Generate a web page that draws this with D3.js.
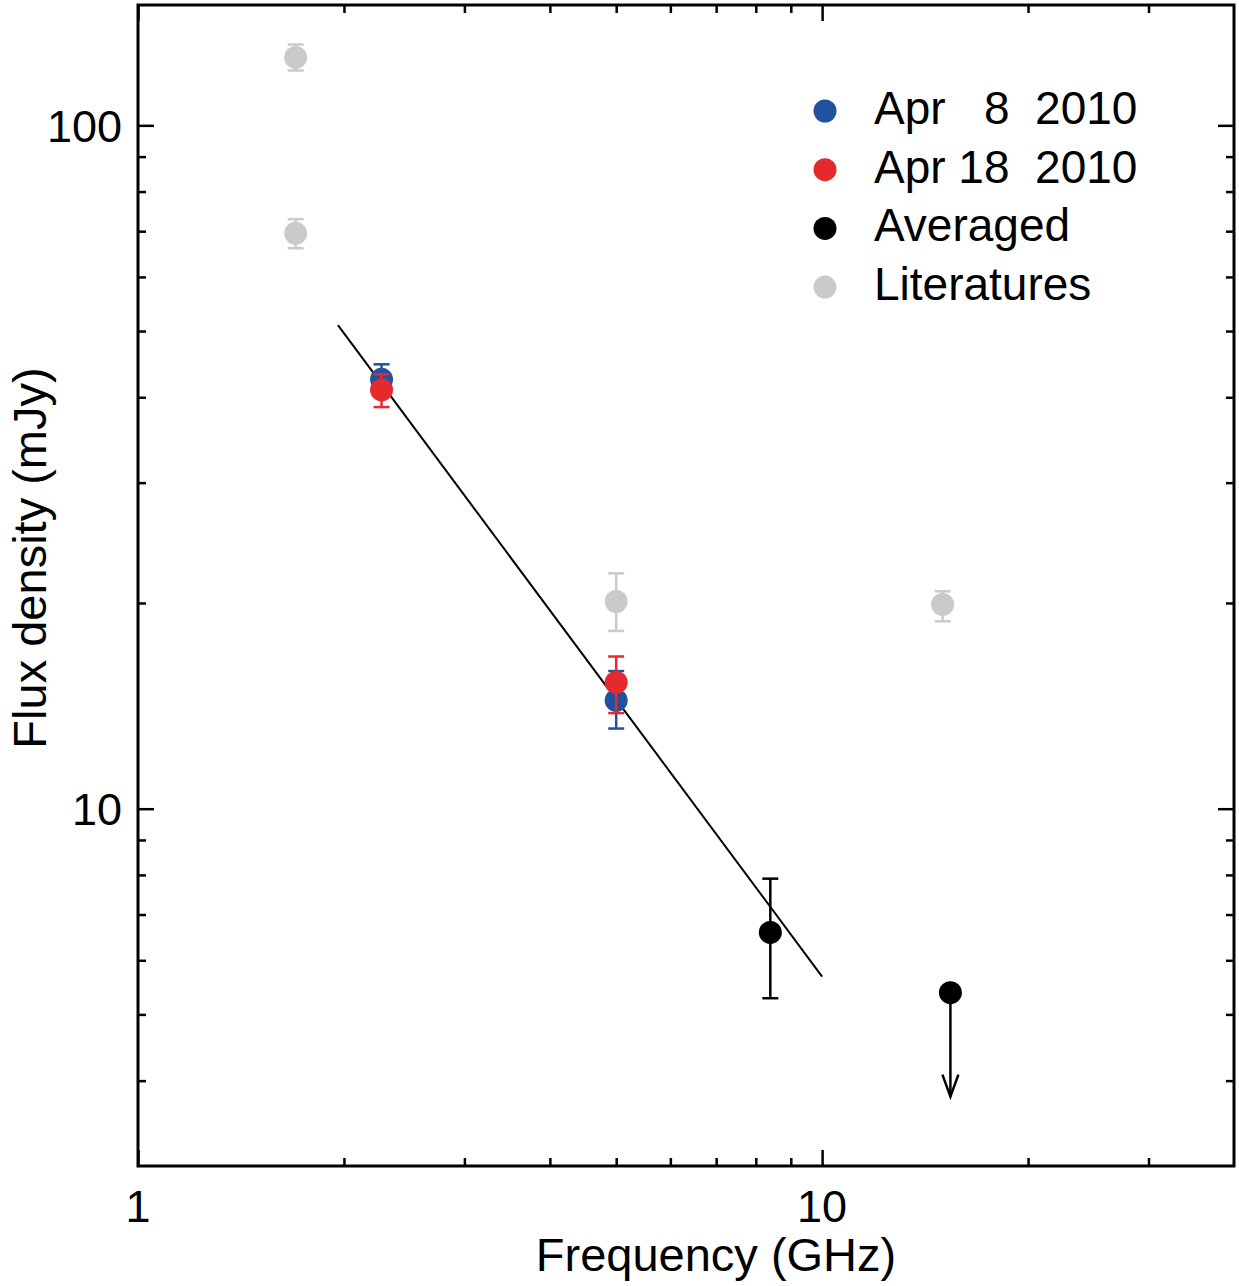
<!DOCTYPE html>
<html lang="en">
<head>
<meta charset="utf-8">
<title>Flux density vs frequency</title>
<script src="https://cdn.jsdelivr.net/npm/d3@7"></script>
<style>
  body { margin: 0; background: #fff; }
  text { font-family: "Liberation Sans", Arial, Helvetica, sans-serif; fill: #000; }
</style>
</head>
<body>
<script>
// series: frequency (GHz), flux (mJy), error low / high (mJy)
var apr8Freq = [2.27, 5.0];
var apr8Flux = [42.5, 14.4];
var apr8Lo = [40.4, 13.1];
var apr8Hi = [44.7, 15.9];

var apr18Freq = [2.27, 5.0];
var apr18Flux = [41.0, 15.3];
var apr18Lo = [38.7, 13.8];
var apr18Hi = [43.2, 16.7];

var litFreq = [1.70, 1.70, 5.0, 15.0];
var litFlux = [125.7, 69.5, 20.1, 19.9];
var litLo = [120.3, 66.1, 18.2, 18.8];
var litHi = [131.3, 72.9, 22.1, 20.8];

var avgFreq = [8.4];
var avgFlux = [6.59];
var avgLo = [5.28];
var avgHi = [7.90];

// upper limit (arrow down)
var limFreq = [15.4];
var limFlux = [5.38];
var limTip = [3.79];

// power-law fit end points
var fitFreq = [1.96, 10.0];
var fitFlux = [51.0, 5.68];

var xMajor = [1, 10];
var xMinor = [2, 3, 4, 5, 6, 7, 8, 9, 20, 30];
var yMajor = [10, 100];
var yMinor = [4, 5, 6, 7, 8, 9, 20, 30, 40, 50, 60, 70, 80, 90];

var legendLabels = ["Apr   8  2010", "Apr 18  2010", "Averaged", "Literatures"];
var legendColors = ["#22519f", "#e52a2d", "#000000", "#c9cacc"];

var W = 1239, H = 1286;
var m = {left: 138, top: 5, right: 5, bottom: 120};
var w = W - m.left - m.right, h = H - m.top - m.bottom;

var svg = d3.select("body").append("svg").attr("width", W).attr("height", H);
var g = svg.append("g").attr("transform", "translate(" + m.left + "," + m.top + ")");

var x = d3.scaleLog().domain([1, 40]).range([0, w]);
var y = d3.scaleLog().domain([3, 150]).range([h, 0]);

function tickAxis(axisFn, scale, vals, len, tx, ty) {
  var a = g.append("g").attr("transform", "translate(" + tx + "," + ty + ")")
    .call(axisFn(scale).tickValues(vals).tickSize(-len).tickFormat(""));
  a.select(".domain").remove();
  a.selectAll("line").attr("stroke", "#000").attr("stroke-width", 2.5);
}
// inward ticks on all four sides
tickAxis(d3.axisBottom, x, xMajor, 16, 0, h);
tickAxis(d3.axisBottom, x, xMinor, 8, 0, h);
tickAxis(d3.axisTop, x, xMajor, 16, 0, 0);
tickAxis(d3.axisTop, x, xMinor, 8, 0, 0);
tickAxis(d3.axisLeft, y, yMajor, 16, 0, 0);
tickAxis(d3.axisLeft, y, yMinor, 8, 0, 0);
tickAxis(d3.axisRight, y, yMajor, 16, w, 0);
tickAxis(d3.axisRight, y, yMinor, 8, w, 0);

// frame
g.append("rect").attr("width", w).attr("height", h)
  .attr("fill", "none").attr("stroke", "#000").attr("stroke-width", 3);

// tick labels
g.selectAll(".xl").data(xMajor).enter().append("text")
  .attr("x", function(d) { return x(d); }).attr("y", h + 56)
  .attr("text-anchor", "middle").style("font-size", "45px")
  .text(function(d) { return d; });
g.selectAll(".yl").data(yMajor).enter().append("text")
  .attr("x", -16).attr("y", function(d) { return y(d); }).attr("dy", "0.36em")
  .attr("text-anchor", "end").style("font-size", "45px")
  .text(function(d) { return d; });

// axis titles
svg.append("text").attr("x", 716).attr("y", 1271).attr("text-anchor", "middle")
  .style("font-size", "47px").text("Frequency (GHz)");
svg.append("text").attr("transform", "translate(46,558) rotate(-90)")
  .attr("text-anchor", "middle").style("font-size", "47px").text("Flux density (mJy)");

// fit line
var line = d3.line().x(function(d) { return x(d[0]); }).y(function(d) { return y(d[1]); });
g.append("path").datum(d3.zip(fitFreq, fitFlux)).attr("d", line)
  .attr("fill", "none").attr("stroke", "#000").attr("stroke-width", 2);

function series(freq, flux, lo, hi, color) {
  var data = freq.map(function(f, i) { return {f: f, v: flux[i], lo: lo[i], hi: hi[i]}; });
  var s = g.append("g");
  var eb = s.selectAll("g").data(data).enter().append("g")
    .attr("stroke", color).attr("stroke-width", 2.5);
  eb.append("line").attr("x1", function(d) { return x(d.f); }).attr("x2", function(d) { return x(d.f); })
    .attr("y1", function(d) { return y(d.lo); }).attr("y2", function(d) { return y(d.hi); });
  eb.append("line").attr("x1", function(d) { return x(d.f) - 8; }).attr("x2", function(d) { return x(d.f) + 8; })
    .attr("y1", function(d) { return y(d.lo); }).attr("y2", function(d) { return y(d.lo); });
  eb.append("line").attr("x1", function(d) { return x(d.f) - 8; }).attr("x2", function(d) { return x(d.f) + 8; })
    .attr("y1", function(d) { return y(d.hi); }).attr("y2", function(d) { return y(d.hi); });
  s.selectAll("circle").data(data).enter().append("circle")
    .attr("cx", function(d) { return x(d.f); }).attr("cy", function(d) { return y(d.v); })
    .attr("r", 11.5).attr("fill", color);
}
series(litFreq, litFlux, litLo, litHi, legendColors[3]);
series(avgFreq, avgFlux, avgLo, avgHi, legendColors[2]);
series(apr8Freq, apr8Flux, apr8Lo, apr8Hi, legendColors[0]);
series(apr18Freq, apr18Flux, apr18Lo, apr18Hi, legendColors[1]);

// upper limit with arrow
limFreq.forEach(function(f, i) {
  var cx = x(f), cy = y(limFlux[i]), ty = y(limTip[i]);
  g.append("line").attr("x1", cx).attr("x2", cx).attr("y1", cy).attr("y2", ty)
    .attr("stroke", "#000").attr("stroke-width", 2.5);
  g.append("path").attr("d", "M" + (cx - 8) + "," + (ty - 22) + "L" + cx + "," + ty + "L" + (cx + 8) + "," + (ty - 22))
    .attr("fill", "none").attr("stroke", "#000").attr("stroke-width", 2.5);
  g.append("circle").attr("cx", cx).attr("cy", cy).attr("r", 11.5).attr("fill", "#000");
});

// legend
var leg = svg.selectAll(".leg").data(legendLabels).enter().append("g")
  .attr("transform", function(d, i) { return "translate(825," + (111 + i * 58.7) + ")"; });
leg.append("circle").attr("r", 11.5).attr("fill", function(d, i) { return legendColors[i]; });
leg.append("text").attr("x", 49).attr("y", 13).style("font-size", "46px")
  .style("white-space", "pre").attr("xml:space", "preserve")
  .text(function(d) { return d; });
</script>
</body>
</html>
